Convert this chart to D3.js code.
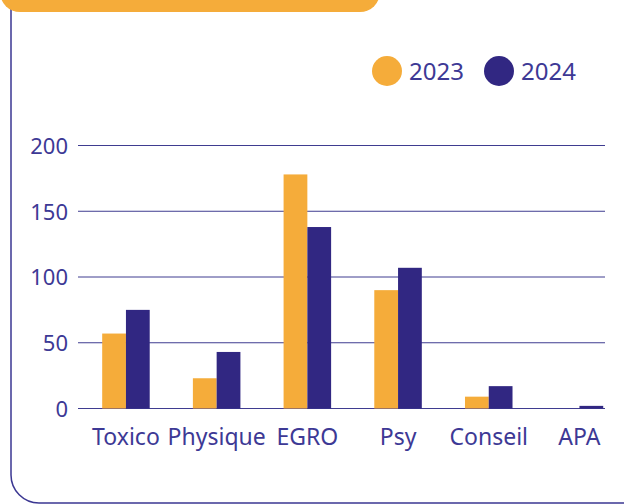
<!DOCTYPE html>
<html>
<head>
<meta charset="utf-8">
<script src="https://cdn.jsdelivr.net/npm/d3@7"></script>
<style>
  body { margin: 0; background: #fff; }
  text { font-family: "Noto Sans", sans-serif; fill: #3d3995; }
</style>
</head>
<body>
<div id="chart"></div>
<script>
let categories = ["Toxico", "Physique", "EGRO", "Psy", "Conseil", "APA"];
let years = ["2023", "2024"];
let values2023 = [57, 23, 178, 90, 9, 0];
let values2024 = [75, 43, 138, 107, 17, 2];
let yTicks = [0, 50, 100, 150, 200];

let svgWidth = 624;
let svgHeight = 504;
let colors = { "2023": "#f5ac3a", "2024": "#312782" };

let svg = d3.select("#chart")
  .append("svg")
  .attr("width", svgWidth)
  .attr("height", svgHeight);

// frame
svg.append("rect")
  .attr("x", 11).attr("y", -40)
  .attr("width", 640).attr("height", 543)
  .attr("rx", 28)
  .attr("fill", "none")
  .attr("stroke", "#3b3792")
  .attr("stroke-width", 1.5);

// orange header tab
svg.append("rect")
  .attr("x", 0).attr("y", -40)
  .attr("width", 380).attr("height", 52)
  .attr("rx", 20)
  .attr("fill", "#f5ac3a");

// scales
let x = d3.scaleBand()
  .domain(categories)
  .range([80.6, 624.8])
  .paddingInner(0.476)
  .paddingOuter(0.238);

let xYear = d3.scaleBand()
  .domain(years)
  .range([0, x.bandwidth()]);

let y = d3.scaleLinear()
  .domain([0, 200])
  .range([408.5, 145.5]);

// grid lines
svg.append("g")
  .selectAll("line")
  .data(yTicks)
  .enter()
  .append("line")
  .attr("x1", 78).attr("x2", 605)
  .attr("y1", d => y(d)).attr("y2", d => y(d))
  .attr("stroke", "#3f3c90")
  .attr("stroke-width", 1);

// y axis labels
let leftAxis = d3.axisLeft(y).tickValues(yTicks).tickSize(0).tickPadding(0);
let yAxis = svg.append("g")
  .attr("transform", "translate(68, 0)")
  .call(leftAxis);
yAxis.select(".domain").remove();
yAxis.selectAll("text")
  .attr("font-size", 22)
  .attr("font-family", "Noto Sans, sans-serif")
  .attr("dy", "0.36em");

// bars
let rows = categories.map((c, i) => ({ cat: c, "2023": values2023[i], "2024": values2024[i] }));
let groups = svg.append("g")
  .selectAll("g")
  .data(rows)
  .enter()
  .append("g")
  .attr("transform", d => `translate(${x(d.cat)}, 0)`);

groups.selectAll("rect")
  .data(d => years.map(yr => ({ year: yr, value: d[yr] })))
  .enter()
  .append("rect")
  .attr("x", d => xYear(d.year))
  .attr("width", xYear.bandwidth())
  .attr("y", d => y(d.value))
  .attr("height", d => y(0) - y(d.value))
  .attr("fill", d => colors[d.year]);

// x axis labels
let bottomAxis = d3.axisBottom(x).tickSize(0).tickPadding(0);
let xAxis = svg.append("g")
  .attr("transform", "translate(0, 445)")
  .call(bottomAxis);
xAxis.select(".domain").remove();
xAxis.selectAll("text")
  .attr("font-size", 23)
  .attr("font-family", "Noto Sans, sans-serif")
  .attr("dy", 0)
  .attr("y", 0);

// legend
let legendX = [387, 499];
let legend = svg.append("g")
  .selectAll("g")
  .data(years)
  .enter()
  .append("g")
  .attr("transform", (d, i) => `translate(${legendX[i]}, 71)`);

legend.append("circle")
  .attr("r", 15)
  .attr("fill", d => colors[d]);

legend.append("text")
  .attr("x", 22)
  .attr("dy", "0.36em")
  .attr("font-size", 24)
  .text(d => d);
</script>
</body>
</html>
